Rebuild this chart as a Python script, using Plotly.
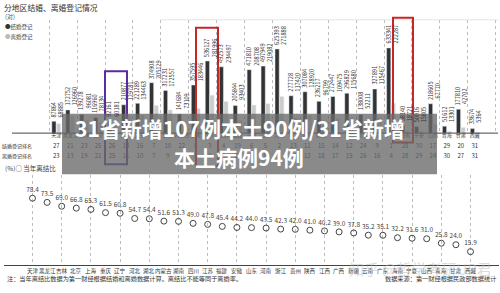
import plotly.graph_objects as go

W, H = 500, 293
def px(x): return x / W
def py(y): return 1 - y / H

provinces = ["天津","黑龙江","吉林","北京","上海","重庆","辽宁","河北","湖北","内蒙古","湖南","四川","江苏","福建","安徽","山东","河南","浙江","贵州","陕西","江西","广西","新疆","云南","广东","海南","宁夏","山西","青海","甘肃","西藏"]
marriage = [87864,172752,139278,116960,92161,210877,221289,374908,317231,141684,357595,536127,492573,205844,471810,497949,625393,277728,307084,236217,272447,296829,138008,327891,633341,58140,50016,218605,51612,177810,33674]
divorce = [68885,126960,96081,78134,60181,129781,134463,205129,172557,73109,183446,281996,234497,93403,208708,219082,271888,117420,128920,96799,109475,115680,52211,115467,222287,18721,15805,67770,13301,42702,5364]
marriage_rank = [27,21,23,25,26,18,16,7,10,22,8,3,4,19,6,5,2,13,11,15,14,12,24,9,1,28,30,17,29,20,31]
divorce_rank = [23,13,19,21,25,11,10,7,9,22,8,1,3,20,6,5,2,14,12,18,17,15,26,16,4,28,29,24,30,27,31]
rank_rows = ["结婚登记排名", "离婚登记排名"]
ratio_provinces = ["天津","黑龙江","吉林","北京","上海","重庆","辽宁","河北","湖北","内蒙古","湖南","四川","江苏","福建","安徽","山东","河南","浙江","贵州","陕西","江西","广西","新疆","云南","广东","海南","宁夏","山西","青海","甘肃","西藏"]
ratio = [78.4,73.5,69.0,66.8,65.3,61.5,60.8,54.7,54.4,51.6,51.3,49.0,47.8,45.4,44.2,44.0,43.5,42.3,42.0,41.0,40.2,39.0,37.8,35.2,35.1,32.2,31.6,31.0,25.8,24.0,15.9]

FONT = "Noto Sans CJK SC"
DARK = "#333333"
LIGHT = "#cccccc"
NAME_ROW = "_names"

fig = go.Figure()
fig.add_trace(go.Bar(x=provinces, y=marriage, marker_color=DARK, xaxis="x", yaxis="y", name="结婚登记"))
fig.add_trace(go.Bar(x=provinces, y=divorce, marker_color=LIGHT, xaxis="x", yaxis="y", name="离婚登记"))

# province names under the top chart
fig.add_trace(go.Scatter(
    x=provinces, y=[NAME_ROW] * len(provinces), text=provinces, mode="text",
    textfont=dict(size=5, color="#333", family=FONT),
    xaxis="x3", yaxis="y3", cliponaxis=False, hoverinfo="skip"))
# rank table
fig.add_trace(go.Scatter(
    x=provinces + provinces,
    y=[rank_rows[0]] * len(provinces) + [rank_rows[1]] * len(provinces),
    text=[str(v) for v in marriage_rank + divorce_rank],
    mode="text", textfont=dict(size=6, color="#333", family=FONT),
    xaxis="x3", yaxis="y3", cliponaxis=False, hoverinfo="skip"))

# ratio chart
fig.add_trace(go.Scatter(
    x=ratio_provinces, y=ratio, mode="markers+text",
    text=[f"{v:.1f}" for v in ratio], textposition="top center",
    textfont=dict(size=6.5, color="#444", family=FONT),
    marker=dict(symbol="circle-open", size=6, color="#444", line=dict(width=1)),
    xaxis="x2", yaxis="y2", cliponaxis=False))

top_y0, top_y1 = 134.5, 20
ymax = 842000
bot_y0, bot_y1 = 268, 177

annotations = []
for p, m, d in zip(provinces, marriage, divorce):
    annotations.append(dict(x=p, y=m, xref="x", yref="y", text=f"{m}<br>{d}",
                            textangle=-90, showarrow=False, yanchor="bottom", xanchor="center",
                            yshift=2, xshift=1, font=dict(size=5.6, color="#333", family=FONT)))
for p in ratio_provinces:
    annotations.append(dict(x=p, y=py(273.5), xref="x2", yref="paper", text=p, showarrow=False,
                            xanchor="center", yanchor="middle", font=dict(size=5.5, color="#333", family=FONT)))

def txt(x, y, s, size, color="#333", xanchor="left", **kw):
    d = dict(x=px(x), y=py(y), xref="paper", yref="paper", text=s, showarrow=False,
             xanchor=xanchor, yanchor="middle", font=dict(size=size, color=color, family=FONT))
    d.update(kw)
    annotations.append(d)

txt(2, 8, "分地区结婚、离婚登记情况", 7.8, "#333")
txt(3, 17, "(对)", 6, "#555")
txt(3, 27, "<span style='color:#333'>●</span>结婚登记", 5.5, "#444")
txt(3, 37, "<span style='color:#bbb'>●</span>离婚登记", 5.5, "#444")
txt(3, 170, "(%)○ 当年离结比", 6.5, "#444")
txt(5, 281, "注：当年离结比数据为第一财经根据结婚和离婚数据计算。离结比不能等同于离婚率。", 6.2, "#333")
txt(498, 281, "数据来源：第一财经根据民政部数据统计", 6.2, "#333", xanchor="right")
txt(420, 271, "知乎 @哲学考研UP君", 15, "rgba(190,190,190,0.55)", xanchor="center")
txt(240, 129, "<b>31省新增107例本土90例/31省新增</b>", 21, "white", xanchor="center")
txt(239, 159, "<b>本土病例94例</b>", 21, "white", xanchor="center")

shapes = [
    dict(type="line", xref="paper", yref="paper", x0=px(12), x1=px(498), y0=py(134.5), y1=py(134.5),
         line=dict(color="#444", width=1)),
    dict(type="line", xref="paper", yref="paper", x0=px(160), x1=px(498), y0=py(20), y1=py(20),
         line=dict(color="#e3e3e3", width=1)),
    dict(type="rect", xref="paper", yref="paper", x0=px(105), x1=px(127), y0=py(72), y1=py(166),
         line=dict(color="#5b2ca0", width=2)),
    dict(type="rect", xref="paper", yref="paper", x0=px(196), x1=px(218), y0=py(28), y1=py(168),
         line=dict(color="#c62828", width=2)),
    dict(type="rect", xref="paper", yref="paper", x0=px(393), x1=px(413), y0=py(18), y1=py(144),
         line=dict(color="#c62828", width=2)),
    dict(type="rect", xref="paper", yref="paper", x0=px(62), x1=px(437), y0=py(115), y1=py(176),
         line=dict(width=0), fillcolor="rgba(105,105,105,0.78)", layer="above"),
]

fig.update_layout(
    width=W, height=H, margin=dict(l=0, r=0, t=0, b=0),
    paper_bgcolor="white", plot_bgcolor="white", showlegend=False,
    barmode="group", bargap=0.33, bargroupgap=0.1,
    font=dict(family=FONT, color="#333"),
    xaxis=dict(domain=[px(33), px(498)], type="category", tickson="boundaries",
               showgrid=True, gridcolor="#bdbdbd", griddash="dot", gridwidth=0.7,
               ticks="", showticklabels=False, anchor="y", showline=False, zeroline=False),
    yaxis=dict(domain=[py(top_y0), py(top_y1)], range=[0, ymax], visible=False),
    xaxis3=dict(domain=[px(33), px(498)], type="category", matches="x", anchor="y3",
                showticklabels=False, showgrid=False, ticks="", zeroline=False),
    yaxis3=dict(domain=[py(159), py(136.5)], type="category", categoryorder="array",
                categoryarray=[NAME_ROW] + rank_rows, autorange="reversed", showgrid=False, ticks="",
                tickvals=[NAME_ROW] + rank_rows, ticktext=[""] + rank_rows,
                tickfont=dict(size=5, color="#333"), anchor="x3", zeroline=False),
    xaxis2=dict(domain=[px(4), px(499)], type="category", showgrid=True, gridcolor="#bdbdbd",
                griddash="dot", gridwidth=0.7, ticks="", showline=True, linecolor="#444", linewidth=1,
                showticklabels=False, anchor="y2", zeroline=False),
    yaxis2=dict(domain=[py(bot_y0), py(bot_y1)], range=[0, (bot_y0 - bot_y1) / 0.864], visible=False),
    annotations=annotations, shapes=shapes,
)

fig.write_html("out.html")
